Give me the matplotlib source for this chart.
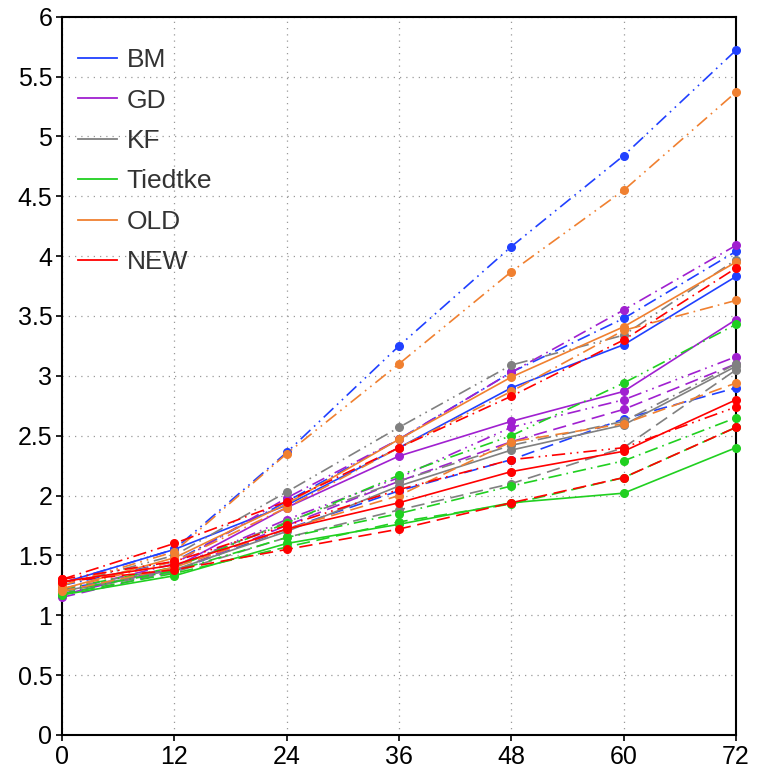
import matplotlib
matplotlib.use("Agg")
import matplotlib.pyplot as plt
import numpy as np

# forecast hour
hours = [0, 12, 24, 36, 48, 60, 72]

models = ["BM", "GD", "KF", "Tiedtke", "OLD", "NEW"]
colors = ["#2040ff", "#a020d0", "#808080", "#20d020", "#f08030", "#ff0000"]

# four runs per scheme: solid, dashed, dash-dot, dash-dot-dot
bm_solid = [1.27, 1.55, 1.92, 2.40, 2.90, 3.26, 3.83]
bm_dash = [1.22, 1.37, 1.72, 2.04, 2.30, 2.64, 2.90]
bm_dashdot = [1.25, 1.45, 1.95, 2.47, 3.03, 3.48, 4.04]
bm_dashdotdot = [1.27, 1.55, 2.36, 3.25, 4.08, 4.84, 5.72]

gd_solid = [1.17, 1.40, 1.90, 2.33, 2.62, 2.87, 3.47]
gd_dash = [1.15, 1.37, 1.75, 2.12, 2.45, 2.72, 3.10]
gd_dashdot = [1.20, 1.43, 1.98, 2.47, 3.03, 3.55, 4.09]
gd_dashdotdot = [1.18, 1.40, 1.80, 2.15, 2.57, 2.80, 3.16]

kf_solid = [1.20, 1.38, 1.70, 2.08, 2.38, 2.59, 3.08]
kf_dash = [1.20, 1.36, 1.65, 1.88, 2.10, 2.40, 3.05]
kf_dashdot = [1.22, 1.40, 1.78, 2.12, 2.42, 2.62, 3.10]
kf_dashdotdot = [1.25, 1.50, 2.03, 2.57, 3.09, 3.34, 3.97]

ti_solid = [1.17, 1.33, 1.60, 1.76, 1.94, 2.02, 2.40]
ti_dash = [1.18, 1.35, 1.57, 1.78, 1.93, 2.15, 2.57]
ti_dashdot = [1.20, 1.37, 1.65, 1.85, 2.08, 2.29, 2.65]
ti_dashdotdot = [1.22, 1.40, 1.77, 2.17, 2.50, 2.94, 3.43]

old_solid = [1.22, 1.48, 1.93, 2.47, 2.99, 3.41, 3.95]
old_dash = [1.20, 1.40, 1.72, 2.00, 2.45, 2.60, 2.94]
old_dashdot = [1.22, 1.45, 1.90, 2.40, 2.87, 3.38, 3.63]
old_dashdotdot = [1.25, 1.53, 2.35, 3.10, 3.87, 4.55, 5.37]

new_solid = [1.28, 1.42, 1.72, 1.94, 2.20, 2.37, 2.80]
new_dash = [1.28, 1.38, 1.55, 1.72, 1.94, 2.15, 2.57]
new_dashdot = [1.30, 1.60, 1.95, 2.40, 2.83, 3.30, 3.90]
new_dashdotdot = [1.30, 1.45, 1.75, 2.05, 2.30, 2.40, 2.74]

runs = [
    [bm_solid, bm_dash, bm_dashdot, bm_dashdotdot],
    [gd_solid, gd_dash, gd_dashdot, gd_dashdotdot],
    [kf_solid, kf_dash, kf_dashdot, kf_dashdotdot],
    [ti_solid, ti_dash, ti_dashdot, ti_dashdotdot],
    [old_solid, old_dash, old_dashdot, old_dashdotdot],
    [new_solid, new_dash, new_dashdot, new_dashdotdot],
]

styles = ["-", (0, (8, 4)), (0, (8, 3, 1, 3)), (0, (8, 3, 1, 3, 1, 3))]

plt.rcParams["font.family"] = ["Liberation Sans", "DejaVu Sans"]

fig = plt.figure(figsize=(7.59, 7.74), dpi=100)
ax = fig.add_axes([0.0817, 0.0504, 0.888, 0.928])

for name, col, series in zip(models, colors, runs):
    for vals, ls in zip(series, styles):
        ax.plot(hours, vals, color=col, linestyle=ls, linewidth=1.2,
                marker="o", markersize=5.5, clip_on=False, zorder=3)
    # legend handle
    ax.plot([], [], color=col, linewidth=1.3, label=name)

ax.set_xlim(0, 72)
ax.set_ylim(0, 6)
ax.set_xticks(hours)
ax.set_yticks(np.arange(0, 6.01, 0.5))
ax.set_yticklabels(["0", "0.5", "1", "1.5", "2", "2.5", "3", "3.5", "4", "4.5", "5", "5.5", "6"])
ax.grid(True, color="#999999", linestyle=(0, (1, 4)), linewidth=0.9)
ax.tick_params(direction="out", length=4, width=1.2, labelsize=18, pad=3)
for sp in ax.spines.values():
    sp.set_linewidth(1.5)

leg = ax.legend(loc="upper left", frameon=False, fontsize=19, handlelength=1.5,
                handletextpad=0.34, labelspacing=0.62, borderaxespad=0.2,
                bbox_to_anchor=(0.0, 0.978))
for t in leg.get_texts():
    t.set_color("#333333")

fig.savefig("out.png", dpi=100)
